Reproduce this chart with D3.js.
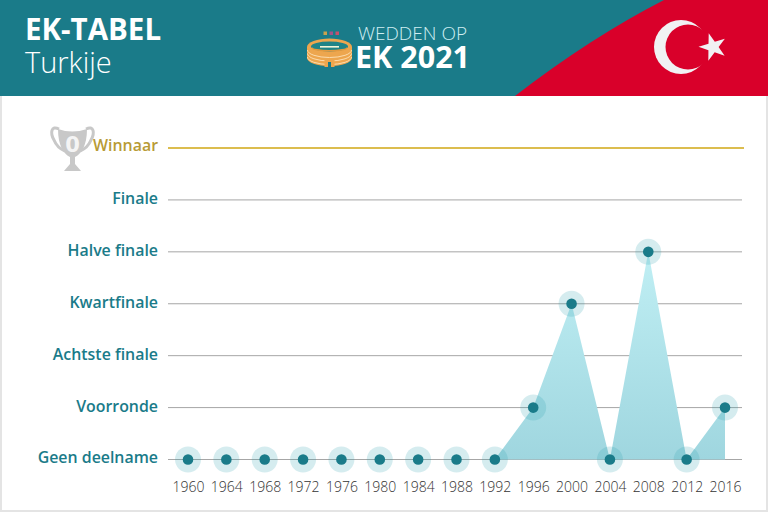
<!DOCTYPE html>
<html><head><meta charset="utf-8">
<script src="https://cdn.jsdelivr.net/npm/d3@7/dist/d3.min.js"></script>
<style>html,body{margin:0;padding:0;background:#fff}svg{display:block;font-family:"Open Sans",sans-serif}</style>
</head><body><svg id="c" width="768" height="512"></svg>
<script>
const years = [1960,1964,1968,1972,1976,1980,1984,1988,1992,1996,2000,2004,2008,2012,2016];
const stages = ["Geen deelname","Voorronde","Achtste finale","Kwartfinale","Halve finale","Finale","Winnaar"];
const results = ["Geen deelname","Geen deelname","Geen deelname","Geen deelname","Geen deelname","Geen deelname","Geen deelname","Geen deelname","Geen deelname","Voorronde","Kwartfinale","Geen deelname","Halve finale","Geen deelname","Voorronde"];
const titleLines = ["EK-TABEL","Turkije"];
const logoLines = ["WEDDEN OP","EK 2021"];

const teal="#1a7b89", red="#d9002a", gold="#b89b35";
const svg=d3.select("#c");
const x=d3.scalePoint().domain(years).range([188,725]);
const y=d3.scalePoint().domain(stages).range([459.5,148]);
const data=years.map((yr,i)=>({yr,stage:results[i]}));

// page edge
svg.append("rect").attr("x",0).attr("y",96).attr("width",2).attr("height",416).attr("fill","#e4e4e4");
svg.append("rect").attr("x",766).attr("y",96).attr("width",2).attr("height",416).attr("fill","#e4e4e4");
svg.append("rect").attr("x",0).attr("y",510).attr("width",768).attr("height",2).attr("fill","#e4e4e4");

// header
svg.append("rect").attr("width",768).attr("height",96).attr("fill",teal);
svg.append("path").attr("d","M515,96 Q590,38 664,0 L768,0 L768,96 Z").attr("fill",red);
svg.append("text").attr("x",25).attr("y",40).attr("fill","#fff").attr("font-size",29.5).attr("font-weight",700).text(titleLines[0]);
svg.append("text").attr("x",25).attr("y",73).attr("fill","#fff").attr("font-size",29).attr("font-weight",300).text(titleLines[1]);

// flag
const defs=svg.append("defs");
const m=defs.append("mask").attr("id","cres");
m.append("rect").attr("x",640).attr("y",0).attr("width",100).attr("height",96).attr("fill","#fff");
m.append("circle").attr("cx",688).attr("cy",47).attr("r",22.5).attr("fill","#000");
svg.append("circle").attr("cx",681).attr("cy",47).attr("r",27).attr("fill","#f1f1f3").attr("mask","url(#cres)");
const star=d3.range(10).map(i=>{const a=-Math.PI/2-0.3+i*Math.PI/5,r=i%2?5.6:14.5;return [713+r*Math.cos(a),47+r*Math.sin(a)];});
svg.append("polygon").attr("points",star.map(p=>p.join(",")).join(" ")).attr("fill","#f1f1f3");

// logo
const lg=svg.append("g");
[[325,33,"#c9a24d"],[331,33,"#a0558a"],[337,33,"#c8506a"]].forEach(d=>lg.append("rect").attr("x",d[0]-1.5).attr("y",d[1]-1.5).attr("width",3.5).attr("height",3.5).attr("fill",d[2]));
lg.append("path").attr("d","M307,47 A22.5,8.5 0 0 1 352,47 L352,58 A22.5,8 0 0 1 307,58 Z").attr("fill","#eda64e");
lg.append("ellipse").attr("cx",329.5).attr("cy",46.5).attr("rx",18.5).attr("ry",5).attr("fill","#1f8488");
lg.append("path").attr("d","M312,47 A17.5,3 0 0 0 347,47 L347,49 A20,5 0 0 1 312,49 Z").attr("fill","#e39a3f");
lg.append("rect").attr("x",320).attr("y",46).attr("width",19).attr("height",1.6).attr("fill","#f2f5d8");
[50,53.5,57].forEach(v=>lg.append("path").attr("d",`M307.5,${v} A22,7.5 0 0 0 351.5,${v}`).attr("fill","none").attr("stroke","#fbdcae").attr("stroke-width",1));
lg.append("rect").attr("x",324.5).attr("y",59).attr("width",10).attr("height",8).attr("fill","#eda64e");
lg.append("rect").attr("x",328).attr("y",62).attr("width",3).attr("height",5).attr("fill",teal);
svg.append("text").attr("x",358).attr("y",40).attr("fill","#cfeef2").attr("font-size",19).attr("font-weight",300).text(logoLines[0]);
svg.append("text").attr("x",355).attr("y",68).attr("fill","#fff").attr("font-size",30.5).attr("font-weight",700).text(logoLines[1]);

// y axis
const ya=svg.append("g").attr("transform","translate(168,-0.5)")
 .call(d3.axisLeft(y).tickSize(-574).tickPadding(10));
ya.select(".domain").remove();
ya.selectAll("line").attr("stroke","#8f8f8f").attr("stroke-width",0.8);
ya.selectAll("text").attr("font-family","'Open Sans',sans-serif").attr("font-size",15.9).attr("font-weight",600).attr("fill",teal).attr("dy","0.25em");
ya.selectAll(".tick").filter(d=>d==="Winnaar").each(function(){
  d3.select(this).select("line").attr("stroke","#dcbd4f").attr("stroke-width",2).attr("x2",576);
  d3.select(this).select("text").attr("fill",gold).attr("dy","0.2em");
});

// x axis
const xa=svg.append("g").attr("transform","translate(0,473)")
 .call(d3.axisBottom(x).tickSize(0).tickPadding(9).tickFormat(d3.format("d")));
xa.select(".domain").remove();
xa.selectAll("text").attr("font-family","'Open Sans',sans-serif").attr("font-size",14).attr("font-weight",300).attr("fill","#333");

// area
const grad=defs.append("linearGradient").attr("id","ag").attr("gradientUnits","userSpaceOnUse").attr("x1",0).attr("x2",0).attr("y1",y("Halve finale")).attr("y2",y("Geen deelname"));
grad.append("stop").attr("offset",0).attr("stop-color","#c0eff4");
grad.append("stop").attr("offset",1).attr("stop-color","#9fd6df");
svg.append("path").datum(data.filter(d=>d.yr>=1992))
 .attr("d",d3.area().x(d=>x(d.yr)).y0(y("Geen deelname")).y1(d=>y(d.stage)))
 .attr("fill","url(#ag)");

// points
svg.append("g").selectAll("circle").data(data).join("circle")
 .attr("cx",d=>x(d.yr)).attr("cy",d=>y(d.stage)).attr("r",13).attr("fill","#2f9fb0").attr("fill-opacity",0.2);
svg.append("g").selectAll("circle").data(data).join("circle")
 .attr("cx",d=>x(d.yr)).attr("cy",d=>y(d.stage)).attr("r",5.3).attr("fill",teal);

// trophy
const tr=svg.append("g");
tr.append("path").attr("d","M59,129 C51,125 50,133 54,140 C56,145 60,149 65,151 M86,129 C94,125 95,133 91,140 C89,145 85,149 80,151").attr("fill","none").attr("stroke","#c8c8c8").attr("stroke-width",3);
tr.append("path").attr("d","M58,129 Q72,134 87,129 C87,146 81,154 75,157 L75,164 L81,171 L64,171 L70,164 L70,157 C64,154 58,146 58,129 Z").attr("fill","#c8c8c8");
tr.append("text").attr("x",72.5).attr("y",152).attr("text-anchor","middle").attr("fill","#f4f4f4").attr("font-family","'DejaVu Sans',sans-serif").attr("font-size",21).attr("font-weight",700).text("0");
</script></body></html>
